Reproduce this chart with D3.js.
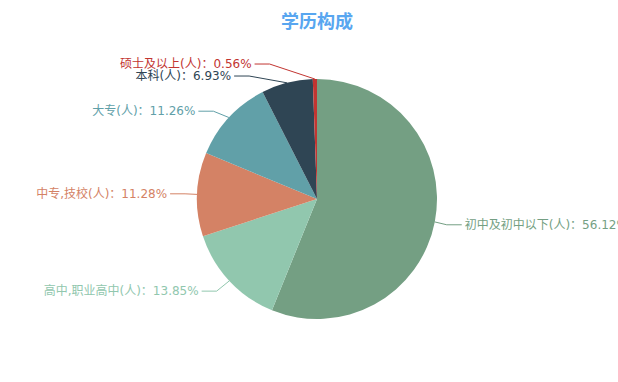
<!DOCTYPE html>
<html>
<head>
<meta charset="utf-8">
<script src="https://cdn.jsdelivr.net/npm/d3@7/dist/d3.min.js"></script>
<style>
  html, body { margin: 0; padding: 0; background: #ffffff; }
  svg { display: block; }
  text { font-family: "DejaVu Sans", "Noto Sans CJK SC", sans-serif; }
</style>
</head>
<body>
<svg id="chart" width="618" height="382"></svg>
<script>
const title = "学历构成";
const categories = ["初中及初中以下(人)", "高中,职业高中(人)", "中专,技校(人)", "大专(人)", "本科(人)", "硕士及以上(人)"];
const values = [56.12, 13.85, 11.28, 11.26, 6.93, 0.56];
const colors = ["#749f83", "#91c7ae", "#d48265", "#61a0a8", "#2f4554", "#c23531"];

const W = 618, H = 382;
const cx = 317, cy = 199, R = 120;
const len1 = 15, len2 = 15, labelH = 12;

const svg = d3.select("#chart");

svg.append("text")
  .attr("x", cx).attr("y", 21)
  .attr("text-anchor", "middle")
  .attr("dominant-baseline", "central")
  .attr("font-size", 18).attr("font-weight", "bold")
  .attr("fill", "#58a6f0")
  .text(title);

const data = categories.map((c, i) => ({ name: c, value: values[i], color: colors[i] }));
const pie = d3.pie().sort(null).value(d => d.value).startAngle(0).endAngle(2 * Math.PI);
const arcs = pie(data);
const arc = d3.arc().innerRadius(0).outerRadius(R);

const g = svg.append("g").attr("transform", `translate(${cx},${cy})`);
g.selectAll("path").data(arcs).enter().append("path")
  .attr("d", arc)
  .attr("fill", d => d.data.color);

// label layout (echarts-like)
const total = d3.sum(values);
const layouts = arcs.map(a => {
  const mid = (a.startAngle + a.endAngle) / 2;
  const dx = Math.sin(mid), dy = -Math.cos(mid);
  const x1 = cx + R * dx, y1 = cy + R * dy;
  const x2 = x1 + dx * len1, y2 = y1 + dy * len1;
  const side = dx < 0 ? -1 : 1;
  const x3 = x2 + side * len2;
  return {
    d: a.data, side,
    x: x3 + side * 5, y: y2,
    pts: [[x1, y1], [x2, y2], [x3, y2]],
    text: a.data.name + "：" + d3.format(".2f")(a.data.value / total * 100) + "%"
  };
});

function adjustSide(list, dir) {
  list.sort((a, b) => a.y - b.y);
  const n = list.length;
  function shiftUp(end, delta) {
    for (let j = end; j >= 0; j--) {
      list[j].y -= delta;
      if (j > 0 && list[j].y > list[j - 1].y + labelH) break;
    }
  }
  function shiftDown(start, end, delta) {
    for (let j = start; j < end; j++) {
      list[j].y += delta;
      if (j > start && j + 1 < end && list[j + 1].y > list[j].y + labelH) {
        shiftUp(j, delta / 2);
        return;
      }
    }
    shiftUp(end - 1, delta / 2);
  }
  let lastY = 0;
  for (let i = 0; i < n; i++) {
    const delta = list[i].y - lastY;
    if (delta < 0) shiftDown(i, n, -delta);
    lastY = list[i].y + labelH;
  }
  const up = list.filter(l => l.y < cy), down = list.filter(l => l.y >= cy);
  function changeX(arr, isDown) {
    let last = isDown ? Number.MAX_VALUE : 0;
    arr.forEach(l => {
      const dY = Math.abs(l.y - cy);
      const rr = R + len1 + len2;
      let dX = dY < R + len1 ? Math.sqrt(rr * rr - dY * dY) : Math.abs(l.x - cx);
      if (isDown && dX >= last) dX = last - 10;
      if (!isDown && dX <= last) dX = last + 10;
      l.x = cx + dX * dir;
      last = dX;
    });
  }
  changeX(up, false);
  changeX(down, true);
}
adjustSide(layouts.filter(l => l.side > 0), 1);
adjustSide(layouts.filter(l => l.side < 0), -1);
layouts.forEach(l => {
  const dist = l.pts[1][0] - l.pts[2][0];
  l.pts[2][0] = l.side < 0 ? l.x + 3 : l.x - 3;
  l.pts[1][1] = l.pts[2][1] = l.y;
  l.pts[1][0] = l.pts[2][0] + dist;
});

const line = d3.line();
svg.append("g").selectAll("path").data(layouts).enter().append("path")
  .attr("d", l => line(l.pts))
  .attr("fill", "none")
  .attr("stroke", l => l.d.color)
  .attr("stroke-width", 1);

svg.append("g").selectAll("text").data(layouts).enter().append("text")
  .attr("x", l => l.x).attr("y", l => l.y)
  .attr("text-anchor", l => l.side < 0 ? "end" : "start")
  .attr("dominant-baseline", "central")
  .attr("font-size", 12)
  .attr("fill", l => l.d.color)
  .text(l => l.text);
</script>
</body>
</html>
